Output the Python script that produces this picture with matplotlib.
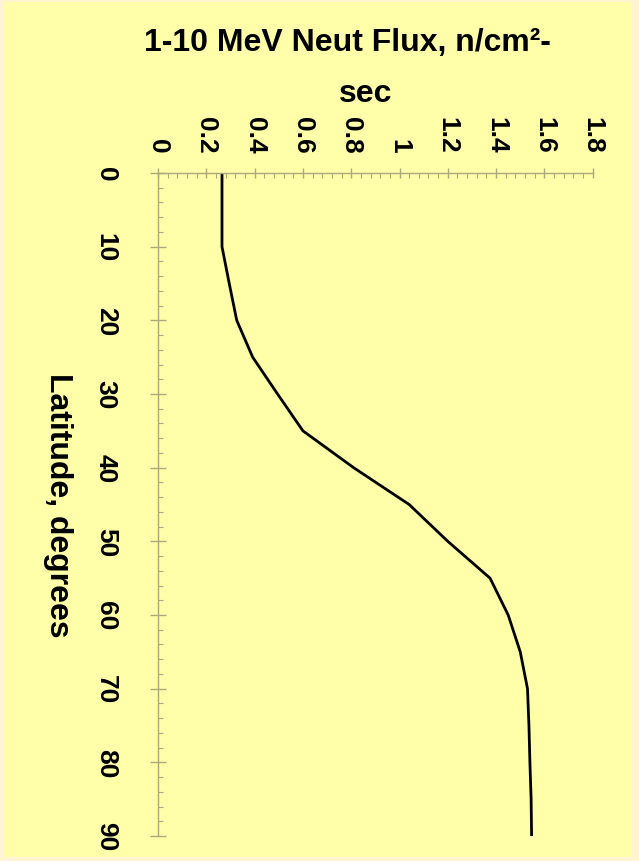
import matplotlib
matplotlib.use("Agg")
import matplotlib.pyplot as plt
from matplotlib.patches import Rectangle
from matplotlib.ticker import MultipleLocator

plt.rcParams['font.family'] = ['Liberation Sans', 'DejaVu Sans']
plt.rcParams['font.weight'] = 'bold'

# latitude (degrees) vs. 1-10 MeV neutron flux
latitude = [0, 5, 10, 15, 20, 25, 30, 35, 40, 45,
            50, 55, 60, 65, 70, 75, 80, 85, 90]
flux = [0.265, 0.265, 0.265, 0.295, 0.326, 0.392, 0.495, 0.60, 0.81, 1.04,
        1.20, 1.375, 1.45, 1.50, 1.53, 1.536, 1.54, 1.545, 1.547]

flux_ticks = [0, 0.2, 0.4, 0.6, 0.8, 1, 1.2, 1.4, 1.6, 1.8]
flux_labels = ['0', '0.2', '0.4', '0.6', '0.8', '1', '1.2', '1.4', '1.6', '1.8']
lat_ticks = [0, 10, 20, 30, 40, 50, 60, 70, 80, 90]

W, H = 639, 862
BG = '#ffffaa'
FRAME = '#fff4d2'
AXIS = '#a9a87a'

fig = plt.figure(figsize=(W / 100, H / 100), dpi=100, facecolor=FRAME)
# yellow panel inside the thin cream frame
fig.patches.append(Rectangle((4 / W, 4 / H), 628 / W, 855 / H,
                             transform=fig.transFigure, facecolor=BG,
                             edgecolor='none', zorder=-5))

ax = fig.add_axes([158 / W, 1 - 837 / H, 434.7 / W, 663 / H])
ax.set_facecolor('none')
ax.set_zorder(2)

ax.plot(flux, latitude, color='black', lw=2.0, solid_joinstyle='round')

ax.set_xlim(0, 1.8)
ax.set_ylim(90, 0)

# axes
ax.spines['bottom'].set_visible(False)
ax.spines['right'].set_visible(False)
for s in ('top', 'left'):
    ax.spines[s].set_color(AXIS)
    ax.spines[s].set_linewidth(1.0)

ax.xaxis.tick_top()
ax.set_xticks(flux_ticks)
ax.set_xticklabels(flux_labels)
ax.xaxis.set_minor_locator(MultipleLocator(0.04))
ax.set_yticks(lat_ticks)
ax.yaxis.set_minor_locator(MultipleLocator(2))

ax.tick_params(axis='x', which='major', direction='inout', length=7,
               width=1, color=AXIS, pad=11, labelsize=19, rotation=-90)
ax.tick_params(axis='y', which='major', direction='inout', length=12,
               width=1, color=AXIS, pad=23, labelsize=19, rotation=-90)
ax.tick_params(which='minor', direction='in', length=3.6, width=0.8,
               color=AXIS)
for lab in ax.get_xticklabels():
    lab.set_fontweight('bold')
    lab.set_va('bottom')
for lab in ax.get_yticklabels():
    lab.set_fontweight('bold')
    lab.set_va('center')

ax.set_ylabel('Latitude, degrees', fontsize=23, fontweight='bold',
              rotation=-90, ha='center', va='center')
ax.yaxis.set_label_coords(-0.229, 0.50)

# title in two lines
fig.text(347 / W, 1 - 51 / H, '1-10 MeV Neut Flux, n/cm\u00b2-', fontsize=23,
         fontweight='bold', ha='center', va='baseline')
fig.text(366 / W, 1 - 102 / H, 'sec', fontsize=23,
         fontweight='bold', ha='center', va='baseline')

fig.savefig('out.png', dpi=100, facecolor=FRAME)
